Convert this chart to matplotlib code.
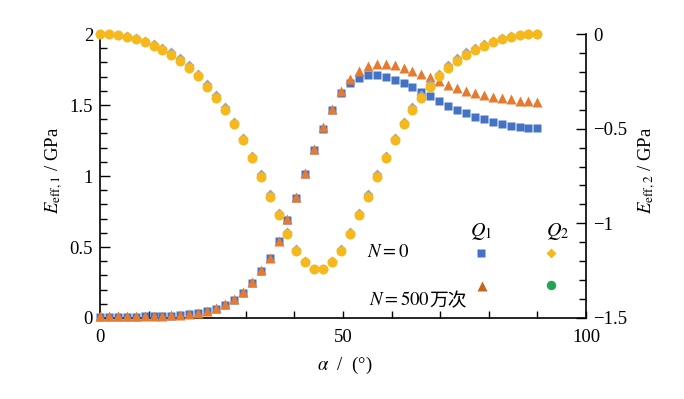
import matplotlib
matplotlib.use("Agg")
import matplotlib.pyplot as plt
from matplotlib.ticker import MultipleLocator, FixedLocator, FixedFormatter

plt.rcParams['font.family'] = ['Liberation Serif', 'Noto Sans CJK SC', 'DejaVu Sans']
plt.rcParams['mathtext.fontset'] = 'stix'
plt.rcParams['axes.unicode_minus'] = True

# ---------------- data ----------------
alpha = [0.00, 1.84, 3.67, 5.51, 7.35, 9.18, 11.02, 12.86, 14.69, 16.53,
         18.37, 20.20, 22.04, 23.88, 25.71, 27.55, 29.39, 31.22, 33.06, 34.90,
         36.73, 38.57, 40.41, 42.24, 44.08, 45.92, 47.76, 49.59, 51.43, 53.27,
         55.10, 56.94, 58.78, 60.61, 62.45, 64.29, 66.12, 67.96, 69.80, 71.63,
         73.47, 75.31, 77.14, 78.98, 80.82, 82.65, 84.49, 86.33, 88.16, 90.00]

# E_eff,1 (left axis), Q1
q1_n0 = [0.010, 0.010, 0.010, 0.010, 0.010, 0.011, 0.012, 0.014, 0.017, 0.021,
         0.027, 0.036, 0.049, 0.066, 0.092, 0.128, 0.178, 0.248, 0.330, 0.420,
         0.540, 0.690, 0.848, 1.012, 1.180, 1.334, 1.465, 1.585, 1.652, 1.690,
         1.708, 1.710, 1.698, 1.678, 1.654, 1.626, 1.595, 1.560, 1.525, 1.494,
         1.466, 1.441, 1.418, 1.399, 1.382, 1.367, 1.353, 1.343, 1.337, 1.335]
q1_n500 = [0.012, 0.012, 0.012, 0.012, 0.012, 0.013, 0.014, 0.016, 0.019, 0.023,
           0.029, 0.038, 0.052, 0.070, 0.096, 0.132, 0.183, 0.252, 0.335, 0.425,
           0.545, 0.695, 0.852, 1.018, 1.188, 1.342, 1.475, 1.600, 1.680, 1.740,
           1.776, 1.790, 1.790, 1.780, 1.760, 1.742, 1.718, 1.695, 1.670, 1.642,
           1.620, 1.601, 1.586, 1.571, 1.558, 1.547, 1.539, 1.531, 1.526, 1.521]

# E_eff,2 (right axis), Q2
q2_n0 = [0.000, 0.000, -0.003, -0.012, -0.022, -0.036, -0.053, -0.075, -0.097, -0.128,
         -0.165, -0.209, -0.265, -0.323, -0.388, -0.463, -0.547, -0.644, -0.741, -0.846,
         -0.944, -1.046, -1.138, -1.199, -1.240, -1.240, -1.199, -1.138, -1.046, -0.944,
         -0.846, -0.741, -0.644, -0.547, -0.463, -0.388, -0.323, -0.265, -0.209, -0.165,
         -0.128, -0.097, -0.075, -0.053, -0.036, -0.022, -0.012, -0.003, 0.000, 0.000]
q2_n500 = [0.000, 0.000, -0.004, -0.014, -0.026, -0.042, -0.062, -0.086, -0.109, -0.141,
           -0.178, -0.222, -0.278, -0.336, -0.401, -0.476, -0.560, -0.657, -0.754, -0.859,
           -0.957, -1.058, -1.145, -1.203, -1.241, -1.241, -1.203, -1.145, -1.058, -0.957,
           -0.859, -0.754, -0.657, -0.560, -0.476, -0.401, -0.336, -0.278, -0.222, -0.178,
           -0.141, -0.109, -0.086, -0.062, -0.042, -0.026, -0.014, -0.004, 0.000, 0.000]

xticks = [0, 50, 100]
xtick_labels = ['0', '50', '100']
y1ticks = [0, 0.5, 1, 1.5, 2]
y1tick_labels = ['0', '0.5', '1', '1.5', '2']
y2ticks = [-1.5, -1, -0.5, 0]
y2tick_labels = ['\u22121.5', '\u22121', '\u22120.5', '0']

C_BLUE = '#4472C4'
C_ORANGE = '#E67A30'
C_GRAY = '#A5A5A5'
C_YELLOW = '#F5B91E'
C_BROWN = '#C8621F'
C_GREEN = '#22A55A'

FS = 13.5

fig = plt.figure(figsize=(6.84, 3.99), dpi=100)
ax = fig.add_axes([100/684, 81/399, 486/684, 284/399])
ax2 = ax.twinx()

ax.plot(alpha, q1_n0, ls='none', marker='s', ms=6.3, mec='none', color=C_BLUE, clip_on=False, zorder=3)
ax.plot(alpha, q1_n500, ls='none', marker='^', ms=7.0, mec='none', color=C_ORANGE, clip_on=False, zorder=4)
ax2.plot(alpha, q2_n0, ls='none', marker='D', ms=5.0, mec='none', color=C_GRAY, clip_on=False, zorder=3)
ax2.plot(alpha, q2_n500, ls='none', marker='o', ms=7.2, mec='none', color=C_YELLOW, clip_on=False, zorder=4)

ax.set_xlim(0, 100)
ax.set_ylim(0, 2)
ax2.set_ylim(-1.5, 0)

ax.xaxis.set_major_locator(FixedLocator(xticks))
ax.xaxis.set_major_formatter(FixedFormatter(xtick_labels))
ax.xaxis.set_minor_locator(MultipleLocator(10))
ax.yaxis.set_major_locator(FixedLocator(y1ticks))
ax.yaxis.set_major_formatter(FixedFormatter(y1tick_labels))
ax.yaxis.set_minor_locator(MultipleLocator(0.1))
ax2.yaxis.set_major_locator(FixedLocator(y2ticks))
ax2.yaxis.set_major_formatter(FixedFormatter(y2tick_labels))
ax2.yaxis.set_minor_locator(MultipleLocator(0.1))

for a in (ax, ax2):
    a.spines['top'].set_visible(False)
    for s in a.spines.values():
        s.set_linewidth(1.2)
ax.spines['right'].set_visible(False)
ax2.spines['left'].set_visible(False)
ax2.spines['bottom'].set_visible(False)

ax.tick_params(axis='x', which='both', direction='in', length=5, width=1.0, labelsize=FS, pad=8)
ax.tick_params(axis='y', which='major', direction='in', length=7, width=1.0, labelsize=FS, pad=5)
ax.tick_params(axis='y', which='minor', direction='in', length=5, width=1.0)
ax2.tick_params(axis='y', which='major', direction='in', length=7, width=1.0, labelsize=FS, pad=5)
ax2.tick_params(axis='y', which='minor', direction='in', length=5, width=1.0)

ax.set_xlabel(r'$\alpha$  /  (°)', fontsize=FS)
ax.xaxis.set_label_coords(0.504, -0.13)
ax.set_ylabel(r'$E_{\mathrm{eff,1}}$ / GPa', fontsize=FS)
ax.yaxis.set_label_coords(-0.072, 0.52)
ax2.set_ylabel(r'$E_{\mathrm{eff,2}}$ / GPa', fontsize=FS)
ax2.yaxis.set_label_coords(1.105, 0.52)

# manual legend
T = ax.transAxes
ax.text(0.784, 0.303, r'$Q_1$', transform=T, fontsize=FS + 1, ha='center', va='center')
ax.text(0.942, 0.303, r'$Q_2$', transform=T, fontsize=FS + 1, ha='center', va='center')
ax.text(0.549, 0.232, r'$N=0$', transform=T, fontsize=FS, ha='left', va='center')
t500 = ax.text(0.553, 0.063, r'$N=500$', transform=T, fontsize=FS, ha='left', va='center')
ax.annotate('万次', xy=(1.0, 0.45), xycoords=t500, fontsize=FS,
            family=['Noto Sans CJK SC'], ha='left', va='center')
ax.plot([0.783], [0.228], transform=T, ls='none', marker='s', ms=6.0, mec='none', color=C_BLUE, clip_on=False)
ax.plot([0.927], [0.228], transform=T, ls='none', marker='D', ms=5.0, mec='none', color=C_YELLOW, clip_on=False)
ax.plot([0.785], [0.113], transform=T, ls='none', marker='^', ms=6.8, mec='none', color=C_BROWN, clip_on=False)
ax.plot([0.927], [0.115], transform=T, ls='none', marker='o', ms=6.8, mec='none', color=C_GREEN, clip_on=False)

fig.savefig('out.png', dpi=100)
